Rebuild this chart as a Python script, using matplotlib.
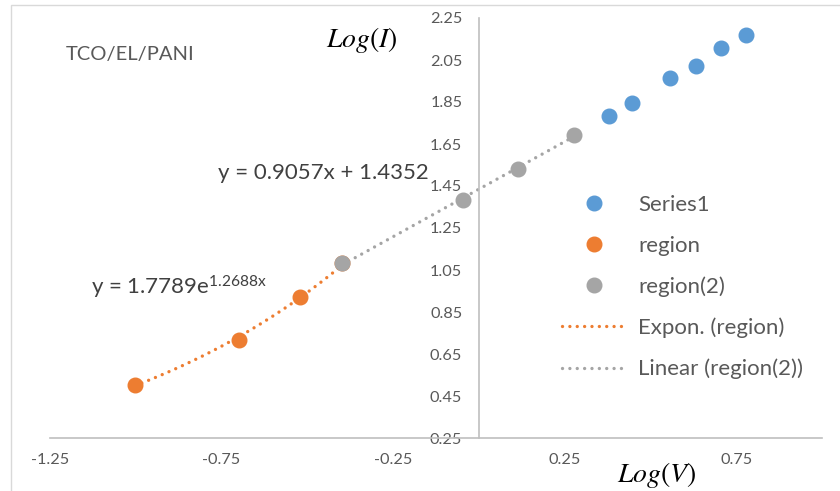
import matplotlib.pyplot as plt
import numpy as np
from matplotlib.patches import Rectangle

plt.rcParams.update({
    "font.family": ["Lato", "DejaVu Sans"],
    "mathtext.fontset": "custom",
    "mathtext.rm": "Lato",
    "mathtext.it": "Lato:italic",
})

# values
series1_x = [0.379, 0.446, 0.555, 0.632, 0.706, 0.777]
series1_y = [1.785, 1.845, 1.963, 2.020, 2.106, 2.170]
region_x = [-1.002, -0.700, -0.522, -0.398]
region_y = [0.502, 0.717, 0.921, 1.082]
region2_x = [-0.398, -0.048, 0.113, 0.278]
region2_y = [1.082, 1.383, 1.531, 1.694]

exp_a, exp_b = 1.7789, 1.2688
lin_m, lin_c = 0.9057, 1.4352

xticks = [-1.25, -0.75, -0.25, 0.25, 0.75]
yticks = [0.25, 0.45, 0.65, 0.85, 1.05, 1.25, 1.45, 1.65, 1.85, 2.05, 2.25]

blue, orange, gray = "#5B9BD5", "#ED7D31", "#A5A5A5"
txt = "#595959"
axc = "#BFBFBF"

W, H = 840, 491
fig = plt.figure(figsize=(W / 100, H / 100), dpi=100)
fig.patches.append(Rectangle((11 / W, -0.1), 1.2, 1 - 5 / H + 0.1,
                             transform=fig.transFigure, fill=False,
                             edgecolor="#D9D9D9", linewidth=1))

x0, x1 = 49.75, 822.4
y0, y1 = 438, 18
ax = fig.add_axes([x0 / W, (H - y0) / H, (x1 - x0) / W, (y0 - y1) / H])
ax.set_xlim(-1.25, 1.0)
ax.set_ylim(0.25, 2.25)
ax.patch.set_visible(False)

for s in ["top", "right"]:
    ax.spines[s].set_visible(False)
ax.spines["left"].set_position(("data", 0))
ax.spines["left"].set_color(axc)
ax.spines["bottom"].set_color(axc)
ax.spines["left"].set_linewidth(1.2)
ax.spines["bottom"].set_linewidth(1.2)

ax.set_xticks(xticks)
ax.set_yticks(yticks)
ax.set_xticklabels([f"{v:.2f}" for v in xticks])
ax.set_yticklabels([f"{v:.2f}" for v in yticks])
ax.tick_params(axis="x", length=0, pad=11, labelsize=11.7, labelcolor=txt)
ax.tick_params(axis="y", length=0, pad=12, labelsize=11.7, labelcolor=txt)

dot = (0, (0.01, 2.2))
xe = np.linspace(min(region_x), max(region_x), 50)
xl = np.array([min(region2_x), max(region2_x)])

ms = 10.5
ax.plot(series1_x, series1_y, "o", color=blue, ms=ms, label="Series1", zorder=3)
ax.plot(region_x, region_y, "o", color=orange, ms=ms, label="region", zorder=3)
ax.plot(region2_x, region2_y, "o", color=gray, ms=ms, label="region(2)", zorder=4)
ax.plot(xe, exp_a * np.exp(exp_b * xe), linestyle=dot, color=orange, lw=2.4,
        dash_capstyle="round", label="Expon. (region)", zorder=2)
ax.plot(xl, lin_m * xl + lin_c, linestyle=dot, color=gray, lw=2.4,
        dash_capstyle="round", label="Linear (region(2))", zorder=2)

ax.legend(loc="upper left", bbox_to_anchor=(562 / W, 1 - 195 / H),
          bbox_transform=fig.transFigure, frameon=False, fontsize=16,
          labelcolor=txt, borderpad=0, borderaxespad=0, handlelength=2.84,
          handletextpad=0.6, labelspacing=0.93, markerscale=1.0)

ax.text(-1.203, 2.074, "TCO/EL/PANI", fontsize=14.5, color=txt, va="center")
ax.text(-0.76, 1.512, "y = 0.9057x + 1.4352", fontsize=16, color="#404040",
        va="center")
ax.text(-1.13, 0.969, r"y = 1.7789e$^{\mathrm{1.2688x}}$", fontsize=16,
        color="#404040", va="center")
ax.text(-0.34, 2.145, r"$Log(I)$", fontsize=20, math_fontfamily="stix",
        ha="center", va="center", color="black")
ax.text(0.518, 0.074, r"$Log(V)$", fontsize=20, math_fontfamily="stix",
        ha="center", va="center", color="black", clip_on=False)

fig.savefig("out.png", dpi=100)
